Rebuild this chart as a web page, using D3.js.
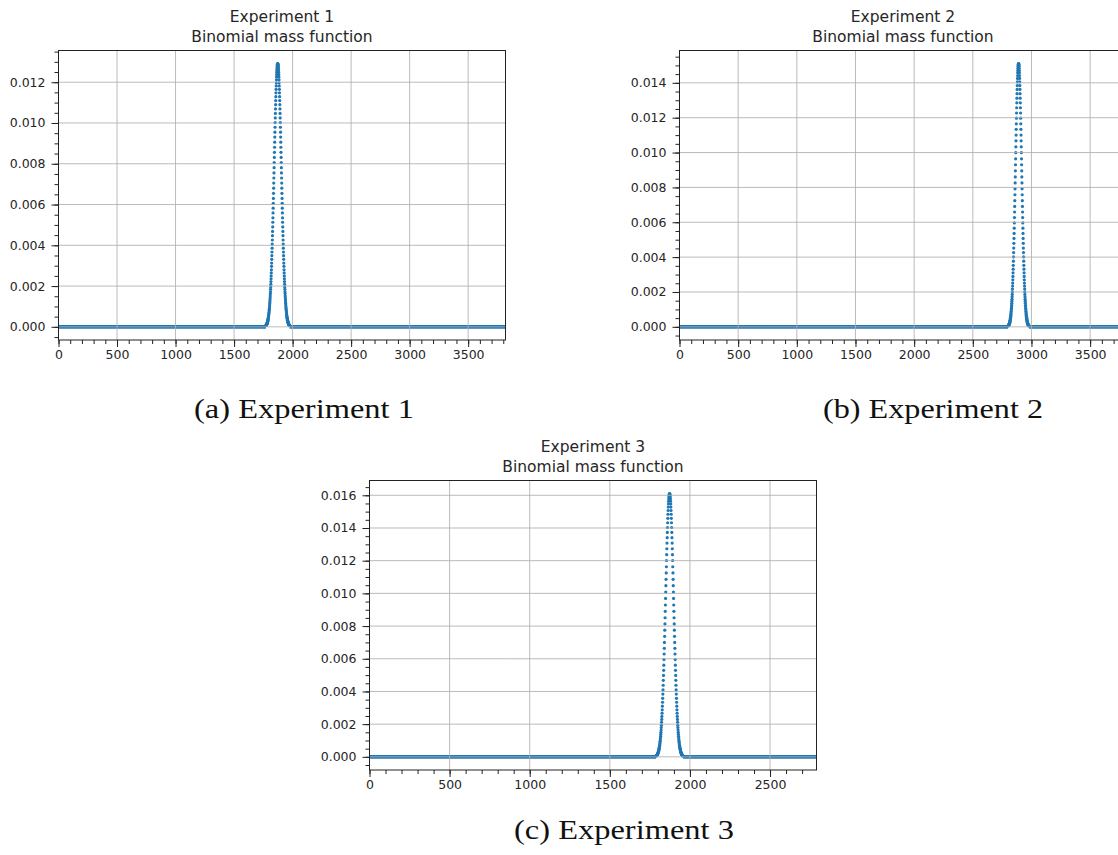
<!DOCTYPE html>
<html>
<head>
<meta charset="utf-8">
<script src="https://cdn.jsdelivr.net/npm/d3@7"></script>
<style>
  body { margin: 0; background: #fff; }
</style>
</head>
<body>
<svg width="1118" height="855"></svg>
<script>
const svg = d3.select('svg');

// chart texts
const titles = ['Experiment 1', 'Experiment 2', 'Experiment 3'];
const subtitle = 'Binomial mass function';
const captions = ['(a) Experiment 1', '(b) Experiment 2', '(c) Experiment 3'];

// number of trials (x axis runs 0..n) and first k of the visible peak
const trials = [3819, 3810, 2790];
const firstK = [1773, 2802, 1789];

// pmf values (everything outside is ~0)
const exp1Pmf = [
  0.00007, 0.00008, 0.00008, 0.00009, 0.00010, 0.00011, 0.00013, 0.00014, 0.00015, 0.00017,
  0.00019, 0.00020, 0.00022, 0.00025, 0.00027, 0.00029, 0.00032, 0.00035, 0.00038, 0.00042,
  0.00045, 0.00049, 0.00053, 0.00058, 0.00063, 0.00068, 0.00073, 0.00079, 0.00086, 0.00092,
  0.00099, 0.00107, 0.00115, 0.00123, 0.00132, 0.00141, 0.00151, 0.00162, 0.00172, 0.00184,
  0.00196, 0.00209, 0.00222, 0.00236, 0.00250, 0.00265, 0.00280, 0.00297, 0.00313, 0.00331,
  0.00349, 0.00367, 0.00386, 0.00406, 0.00426, 0.00447, 0.00468, 0.00490, 0.00513, 0.00535,
  0.00559, 0.00582, 0.00606, 0.00630, 0.00655, 0.00680, 0.00705, 0.00730, 0.00755, 0.00781,
  0.00806, 0.00831, 0.00856, 0.00881, 0.00906, 0.00931, 0.00955, 0.00979, 0.01002, 0.01025,
  0.01047, 0.01069, 0.01090, 0.01110, 0.01129, 0.01148, 0.01165, 0.01182, 0.01197, 0.01212,
  0.01225, 0.01237, 0.01248, 0.01258, 0.01267, 0.01274, 0.01280, 0.01285, 0.01288, 0.01290,
  0.01291,
  0.01290, 0.01288, 0.01285, 0.01280, 0.01274, 0.01267, 0.01258, 0.01248, 0.01237, 0.01225,
  0.01212, 0.01197, 0.01182, 0.01165, 0.01148, 0.01129, 0.01110, 0.01090, 0.01069, 0.01047,
  0.01025, 0.01002, 0.00979, 0.00955, 0.00931, 0.00906, 0.00881, 0.00856, 0.00831, 0.00806,
  0.00781, 0.00755, 0.00730, 0.00705, 0.00680, 0.00655, 0.00630, 0.00606, 0.00582, 0.00559,
  0.00535, 0.00513, 0.00490, 0.00468, 0.00447, 0.00426, 0.00406, 0.00386, 0.00367, 0.00349,
  0.00331, 0.00313, 0.00297, 0.00280, 0.00265, 0.00250, 0.00236, 0.00222, 0.00209, 0.00196,
  0.00184, 0.00172, 0.00162, 0.00151, 0.00141, 0.00132, 0.00123, 0.00115, 0.00107, 0.00099,
  0.00092, 0.00086, 0.00079, 0.00073, 0.00068, 0.00063, 0.00058, 0.00053, 0.00049, 0.00045,
  0.00042, 0.00038, 0.00035, 0.00032, 0.00029, 0.00027, 0.00025, 0.00022, 0.00020, 0.00019,
  0.00017, 0.00015, 0.00014, 0.00013, 0.00011, 0.00010, 0.00009, 0.00008, 0.00008, 0.00007
];

const exp2Pmf = [
  0.00006, 0.00007, 0.00007, 0.00008, 0.00010, 0.00011, 0.00012, 0.00014,
  0.00015, 0.00017, 0.00019, 0.00021, 0.00024, 0.00027, 0.00030, 0.00033, 0.00037, 0.00041,
  0.00045, 0.00050, 0.00055, 0.00060, 0.00066, 0.00073, 0.00080, 0.00088, 0.00096, 0.00105,
  0.00114, 0.00124, 0.00135, 0.00147, 0.00159, 0.00172, 0.00186, 0.00201, 0.00217, 0.00234,
  0.00251, 0.00270, 0.00289, 0.00310, 0.00331, 0.00353, 0.00377, 0.00401, 0.00426, 0.00452,
  0.00479, 0.00507, 0.00536, 0.00566, 0.00596, 0.00627, 0.00659, 0.00691, 0.00724, 0.00758,
  0.00792, 0.00826, 0.00860, 0.00895, 0.00930, 0.00964, 0.00999, 0.01033, 0.01067, 0.01100,
  0.01133, 0.01165, 0.01197, 0.01227, 0.01257, 0.01285, 0.01312, 0.01338, 0.01362, 0.01384,
  0.01405, 0.01425, 0.01442, 0.01458, 0.01471, 0.01483, 0.01493, 0.01500, 0.01506, 0.01509,
  0.01510,
  0.01509, 0.01506, 0.01500, 0.01493, 0.01483, 0.01471, 0.01458, 0.01442, 0.01425, 0.01405,
  0.01384, 0.01362, 0.01338, 0.01312, 0.01285, 0.01257, 0.01227, 0.01197, 0.01165, 0.01133,
  0.01100, 0.01067, 0.01033, 0.00999, 0.00964, 0.00930, 0.00895, 0.00860, 0.00826, 0.00792,
  0.00758, 0.00724, 0.00691, 0.00659, 0.00627, 0.00596, 0.00566, 0.00536, 0.00507, 0.00479,
  0.00452, 0.00426, 0.00401, 0.00377, 0.00353, 0.00331, 0.00310, 0.00289, 0.00270, 0.00251,
  0.00234, 0.00217, 0.00201, 0.00186, 0.00172, 0.00159, 0.00147, 0.00135, 0.00124, 0.00114,
  0.00105, 0.00096, 0.00088, 0.00080, 0.00073, 0.00066, 0.00060, 0.00055, 0.00050, 0.00045,
  0.00041, 0.00037, 0.00033, 0.00030, 0.00027, 0.00024, 0.00021, 0.00019, 0.00017, 0.00015,
  0.00014, 0.00012, 0.00011, 0.00010, 0.00008, 0.00007, 0.00007, 0.00006
];

const exp3Pmf = [
  0.00005, 0.00006, 0.00007, 0.00008,
  0.00009, 0.00010, 0.00011, 0.00013, 0.00015, 0.00017, 0.00019, 0.00021, 0.00024, 0.00027,
  0.00030, 0.00034, 0.00038, 0.00042, 0.00047, 0.00052, 0.00058, 0.00064, 0.00071, 0.00078,
  0.00086, 0.00095, 0.00105, 0.00115, 0.00126, 0.00138, 0.00150, 0.00164, 0.00179, 0.00194,
  0.00211, 0.00229, 0.00247, 0.00267, 0.00288, 0.00310, 0.00334, 0.00358, 0.00384, 0.00410,
  0.00438, 0.00468, 0.00498, 0.00529, 0.00561, 0.00595, 0.00629, 0.00664, 0.00700, 0.00737,
  0.00775, 0.00813, 0.00851, 0.00890, 0.00929, 0.00969, 0.01008, 0.01047, 0.01086, 0.01125,
  0.01163, 0.01201, 0.01237, 0.01273, 0.01308, 0.01341, 0.01373, 0.01403, 0.01432, 0.01459,
  0.01484, 0.01507, 0.01528, 0.01547, 0.01564, 0.01578, 0.01589, 0.01598, 0.01605, 0.01609,
  0.01610,
  0.01609, 0.01605, 0.01598, 0.01589, 0.01578, 0.01564, 0.01547, 0.01528, 0.01507, 0.01484,
  0.01459, 0.01432, 0.01403, 0.01373, 0.01341, 0.01308, 0.01273, 0.01237, 0.01201, 0.01163,
  0.01125, 0.01086, 0.01047, 0.01008, 0.00969, 0.00929, 0.00890, 0.00851, 0.00813, 0.00775,
  0.00737, 0.00700, 0.00664, 0.00629, 0.00595, 0.00561, 0.00529, 0.00498, 0.00468, 0.00438,
  0.00410, 0.00384, 0.00358, 0.00334, 0.00310, 0.00288, 0.00267, 0.00247, 0.00229, 0.00211,
  0.00194, 0.00179, 0.00164, 0.00150, 0.00138, 0.00126, 0.00115, 0.00105, 0.00095, 0.00086,
  0.00078, 0.00071, 0.00064, 0.00058, 0.00052, 0.00047, 0.00042, 0.00038, 0.00034, 0.00030,
  0.00027, 0.00024, 0.00021, 0.00019, 0.00017, 0.00015, 0.00013, 0.00011, 0.00010, 0.00009,
  0.00008, 0.00007, 0.00006, 0.00005
];

// tick labels
const xTicksWide = [0, 500, 1000, 1500, 2000, 2500, 3000, 3500];
const xTicksNarrow = [0, 500, 1000, 1500, 2000, 2500];
const yTicks1 = [0, 0.002, 0.004, 0.006, 0.008, 0.010, 0.012];
const yTicks2 = [0, 0.002, 0.004, 0.006, 0.008, 0.010, 0.012, 0.014];
const yTicks3 = [0, 0.002, 0.004, 0.006, 0.008, 0.010, 0.012, 0.014, 0.016];

const pmfs = [exp1Pmf, exp2Pmf, exp3Pmf];
const xTicks = [xTicksWide, xTicksWide, xTicksNarrow];
const yTicks = [yTicks1, yTicks2, yTicks3];

// layout of the three panels and the captions under them
const pw = 447, ph = 289.5;
const panels = [
  {left: 58.5, top: 50.5, capX: 304, capY: 418},
  {left: 679.5, top: 50.5, capX: 933, capY: 418},
  {left: 369.5, top: 480.5, capX: 624, capY: 839}
];

const blue = '#1f77b4';
const textColor = '#262626';
const tickFont = 'DejaVu Sans, sans-serif';

panels.forEach((p, i) => {
  const pmf = pmfs[i];
  const n = trials[i];
  const k0 = firstK[i];

  const g = svg.append('g')
    .attr('transform', `translate(${p.left},${p.top})`);

  const x = d3.scaleLinear().domain([0, n]).range([0, pw]);
  const yMax = d3.max(pmf);
  const pad = yMax * 0.05;
  const y = d3.scaleLinear().domain([-pad, yMax + pad]).range([ph, 0]);

  const clipId = `clip${i}`;
  g.append('clipPath').attr('id', clipId)
    .append('rect').attr('width', pw).attr('height', ph);

  const plot = g.append('g').attr('clip-path', `url(#${clipId})`);

  // zero tails on both sides of the peak, drawn as a dense band
  const tails = [[0, k0 - 1], [k0 + pmf.length, n]];
  plot.selectAll('.tail')
    .data(tails)
    .join('line')
    .attr('class', 'tail')
    .attr('x1', d => x(d[0]))
    .attr('x2', d => x(d[1]))
    .attr('y1', y(0))
    .attr('y2', y(0))
    .attr('stroke', blue)
    .attr('stroke-width', 3.6);

  const points = pmf.map((v, j) => ({k: k0 + j, v}));
  plot.selectAll('circle')
    .data(points)
    .join('circle')
    .attr('cx', d => x(d.k))
    .attr('cy', d => y(d.v))
    .attr('r', 1.6)
    .attr('fill', blue);

  // grid (major ticks only)
  plot.selectAll('.gx')
    .data(xTicks[i])
    .join('line')
    .attr('x1', d => x(d)).attr('x2', d => x(d))
    .attr('y1', 0).attr('y2', ph)
    .attr('stroke', '#b0b0b0').attr('stroke-width', 1).attr('opacity', 0.85);

  plot.selectAll('.gy')
    .data(yTicks[i])
    .join('line')
    .attr('x1', 0).attr('x2', pw)
    .attr('y1', d => y(d)).attr('y2', d => y(d))
    .attr('stroke', '#b0b0b0').attr('stroke-width', 1).attr('opacity', 0.85);

  // axes
  const xMinor = d3.range(0, n + 1, 100);
  const yMinor = d3.range(0, yMax + pad, 0.0005).concat([-0.0005]);

  const xAxis = g.append('g').attr('transform', `translate(0,${ph})`)
    .call(d3.axisBottom(x).tickValues(xTicks[i]).tickSize(7).tickPadding(3)
      .tickSizeOuter(0).tickFormat(d3.format('d')));
  const xAxisMinor = g.append('g').attr('transform', `translate(0,${ph})`)
    .call(d3.axisBottom(x).tickValues(xMinor).tickSize(4).tickSizeOuter(0).tickFormat(''));

  const yAxis = g.append('g')
    .call(d3.axisLeft(y).tickValues(yTicks[i]).tickSize(7).tickPadding(6)
      .tickSizeOuter(0).tickFormat(d3.format('.3f')));
  const yAxisMinor = g.append('g')
    .call(d3.axisLeft(y).tickValues(yMinor.filter(v => y(v) >= 0 && y(v) <= ph))
      .tickSize(4).tickSizeOuter(0).tickFormat(''));

  [xAxis, xAxisMinor, yAxis, yAxisMinor].forEach(a => {
    a.select('.domain').remove();
    a.selectAll('line').attr('stroke', '#222').attr('stroke-width', 1);
    a.selectAll('text')
      .attr('fill', textColor)
      .style('font-family', tickFont)
      .style('font-size', '12.5px');
  });

  // frame
  g.append('rect')
    .attr('width', pw).attr('height', ph)
    .attr('fill', 'none').attr('stroke', '#222').attr('stroke-width', 1);

  // two-line title
  const title = g.append('text')
    .attr('x', pw / 2)
    .attr('text-anchor', 'middle')
    .attr('fill', textColor)
    .style('font-family', tickFont)
    .style('font-size', '15.5px');
  title.append('tspan').attr('x', pw / 2).attr('y', -29).text(titles[i]);
  title.append('tspan').attr('x', pw / 2).attr('y', -8.5).text(subtitle);

  // caption under the panel
  svg.append('text')
    .attr('x', p.capX)
    .attr('y', p.capY)
    .attr('text-anchor', 'middle')
    .attr('fill', '#111')
    .attr('textLength', 220)
    .attr('lengthAdjust', 'spacingAndGlyphs')
    .style('font-family', 'Liberation Serif, serif')
    .style('font-size', '27px')
    .text(captions[i]);
});
</script>
</body>
</html>
